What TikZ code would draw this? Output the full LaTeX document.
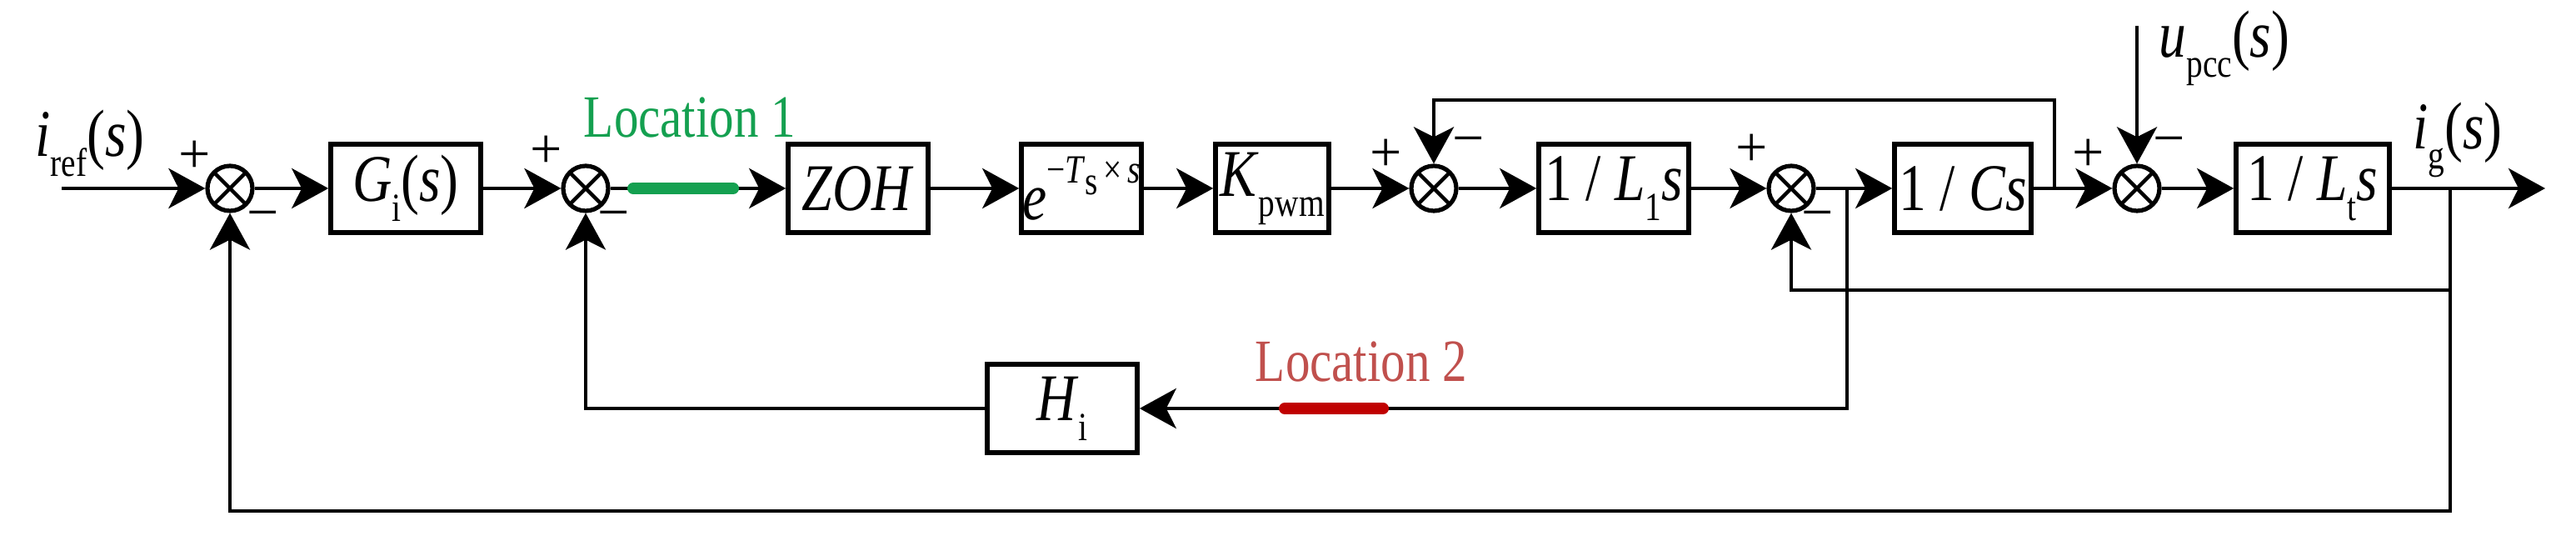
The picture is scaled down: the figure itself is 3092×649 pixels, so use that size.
\documentclass[tikz,border=0pt]{standalone}
\usepackage{fontspec}
\setmainfont{Liberation Serif}
\newfontfamily\tnr{Liberation Serif}
\usetikzlibrary{arrows.meta}
\newcommand{\sbx}[1]{\raisebox{-0.3em}{\fontsize{12}{12}\selectfont #1}}
\newcommand{\spx}[1]{\raisebox{0.55em}{\fontsize{12}{12}\selectfont #1}}
\newcommand{\cn}[1]{\scalebox{0.82}[1]{#1}}
\begin{document}
\begin{tikzpicture}[x=0.25pt,y=-0.25pt,
  line width=1.2pt,
  arr/.style={-{Stealth[length=11pt,width=12pt,inset=3pt]}},
  blk/.style={draw,line width=1.4pt,minimum height=26.5pt,inner sep=0pt,font=\tnr\fontsize{20}{22}\selectfont},
  sum/.style={draw,circle,line width=1.3pt,minimum size=13.5pt,inner sep=0pt,
    path picture={\draw[line width=1.1pt] (path picture bounding box.south west)--(path picture bounding box.north east)
      (path picture bounding box.north west)--(path picture bounding box.south east);}},
  sg/.style={font=\tnr\fontsize{17}{17}\selectfont},
  lbl/.style={font=\tnr\fontsize{18}{20}\selectfont},
  sig/.style={font=\tnr\fontsize{20}{22}\selectfont}]
\useasboundingbox (0,0) rectangle (3092,649);
% nodes
\coordinate (in) at (74,226);
\node[sum] (s1) at (276,226) {};
\node[blk,minimum width=45pt] (G) at (487,226) {\cn{\textit{G}\sbx{i}(\textit{s})}};
\node[sum] (s2) at (703,226) {};
\node[blk,minimum width=42pt] (Z) at (1030,226) {\cn{\textit{ZOH}}};
\node[blk,minimum width=36pt] (E) at (1298,226) {\cn{\textit{e}\spx{\textminus\textit{T}\sbx{s}\,×\,\textit{s}}}};
\node[blk,minimum width=34pt] (K) at (1527,226) {\cn{\textit{K}\sbx{pwm}}};
\node[sum] (s3) at (1721,226) {};
\node[blk,minimum width=45pt] (L1) at (1937,226) {\cn{1 / \textit{L}\sbx{1}\textit{s}}};
\node[sum] (s4) at (2150,226) {};
\node[blk,minimum width=41pt] (C) at (2356,226) {\cn{1 / \textit{Cs}}};
\node[sum] (s5) at (2565,226) {};
\node[blk,minimum width=46pt] (Lt) at (2776,226) {\cn{1 / \textit{L}\sbx{t}\textit{s}}};
\node[blk,minimum width=45pt] (H) at (1275,490) {\cn{\textit{H}\sbx{i}}};
\coordinate (out) at (3055,226);
\coordinate (b1) at (2217,226);
\coordinate (b2) at (2466,226);
\coordinate (b3) at (2941,226);
\coordinate (up) at (2565,31);
% forward path
\draw[arr] (in) -- (s1);
\draw[arr] (s1) -- (G);
\draw[arr] (G) -- (s2);
\draw[arr] (s2) -- (Z);
\draw[arr] (Z) -- (E);
\draw[arr] (E) -- (K);
\draw[arr] (K) -- (s3);
\draw[arr] (s3) -- (L1);
\draw[arr] (L1) -- (s4);
\draw[arr] (s4) -- (C);
\draw[arr] (C) -- (s5);
\draw[arr] (s5) -- (Lt);
\draw[arr] (Lt) -- (out);
\draw[arr] (up) -- (s5);
% feedbacks
\draw[arr] (b1) |- (H);
\draw[arr] (H) -| (s2);
\draw[arr] (b2) -- (2466,120) -| (s3);
\draw[arr] (b3) |- (2150,348) -- (s4);
\draw[arr] (b3) |- (276,613) -- (s1);
% location marks
\draw[line width=3.5pt,line cap=round,color={rgb,255:red,20;green,160;blue,80}] (760,226) -- (880,226);
\draw[line width=3.5pt,line cap=round,color={rgb,255:red,192;green,0;blue,0}] (1542,490) -- (1660,490);
\node[lbl,text={rgb,255:red,20;green,160;blue,80}] (loc1) at (828,141) {\cn{Location 1}};
\node[lbl,text={rgb,255:red,192;green,80;blue,77}] (loc2) at (1634,434) {\cn{Location 2}};
% signal labels
\node[sig] (ir) at (108,172) {\cn{\textit{i}\sbx{ref}(\textit{s})}};
\node[sig] (uc) at (2670,58) {\cn{\textit{u}\sbx{pcc}(\textit{s})}};
\node[sig] (ig) at (2950,168) {\cn{\textit{i}\sbx{g}(\textit{s})}};
% signs
\node[sg] at (234,188) {+}; \node[sg] at (316,265) {\textminus};
\node[sg] at (656,182) {+}; \node[sg] at (737,265) {\textminus};
\node[sg] at (1664,186) {+}; \node[sg] at (1763,176) {\textminus};
\node[sg] at (2103,180) {+}; \node[sg] at (2182,265) {\textminus};
\node[sg] at (2507,186) {+}; \node[sg] at (2604,176) {\textminus};
\end{tikzpicture}
\end{document}
